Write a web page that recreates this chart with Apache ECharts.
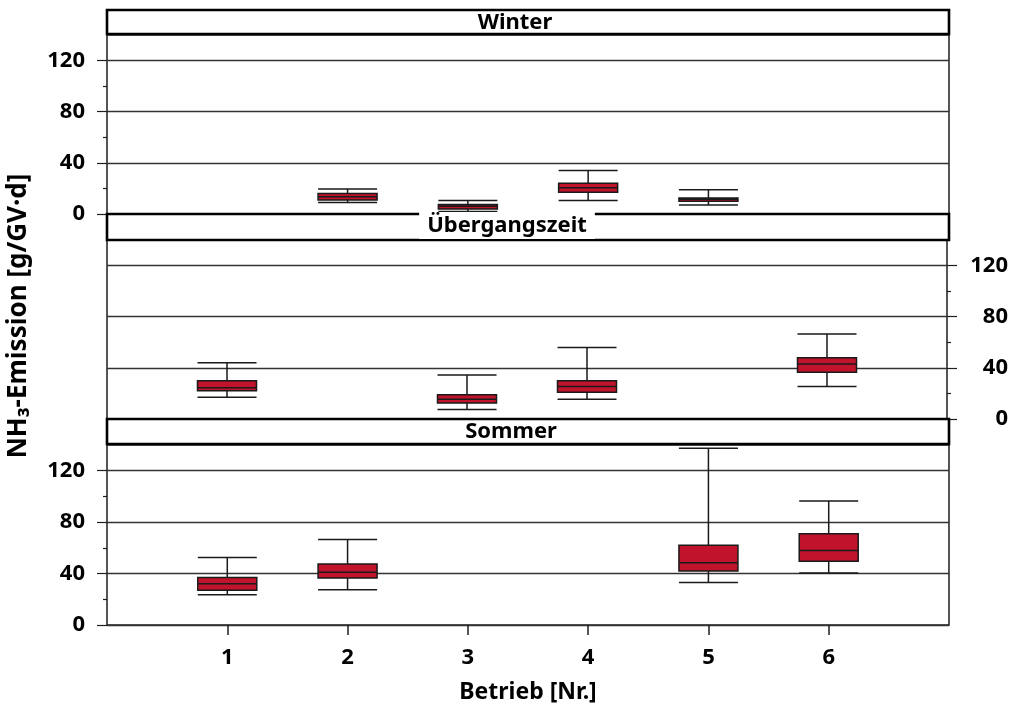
<!DOCTYPE html>
<html>
<head>
<meta charset="utf-8">
<script src="https://cdn.jsdelivr.net/npm/echarts@6/dist/echarts.min.js"></script>
<style>
  html, body { margin: 0; padding: 0; background: #fff; }
  #chart { width: 1011px; height: 710px; }
</style>
</head>
<body>
<div id="chart"></div>
<script>
// Betriebe on the x axis (empty slots pad the axis ends)
const categories = ['', '1', '2', '3', '4', '5', '6', ''];
const seasons = ['Winter', 'Übergangszeit', 'Sommer'];
const yTicks = [0, 40, 80, 120];
const yMinorTicks = [20, 60, 100];

// Boxplot statistics per season: Betrieb and [min, Q1, median, Q3, max] in g/GV·d
const winterBetrieb = ['2', '3', '4', '5'];
const winterStats = [
  [9, 11, 13.5, 16, 19.5],
  [2, 4, 6, 7.5, 10.5],
  [10.5, 17, 20.5, 24, 34],
  [7, 10, 11.5, 12.5, 19]
];
const uebergangBetrieb = ['1', '3', '4', '6'];
const uebergangStats = [
  [17, 22, 24.5, 30, 44],
  [7.5, 12.5, 15.5, 19, 34.5],
  [15.5, 21, 25.5, 30, 56],
  [25.5, 36.5, 43, 48, 66.5]
];
const sommerBetrieb = ['1', '2', '5', '6'];
const sommerStats = [
  [23.5, 27, 32, 37, 52.5],
  [27.5, 36.5, 41, 47.5, 66.5],
  [33, 42, 48.5, 62, 137.5],
  [40.5, 49.5, 58, 71, 96.5]
];

function toSeriesData(betrieb, stats) {
  return categories.map(function (c) {
    const i = betrieb.indexOf(c);
    return i >= 0 && c !== '' ? stats[i].slice() : ['-', '-', '-', '-', '-'];
  });
}

const seasonData = [
  toSeriesData(winterBetrieb, winterStats),
  toSeriesData(uebergangBetrieb, uebergangStats),
  toSeriesData(sommerBetrieb, sommerStats)
];

const FONT = '"Noto Sans", "Open Sans", sans-serif';
const panels = [
  { top: 35, height: 179, side: 'left', header: [10, 24], labelX: 515 },
  { top: 240, height: 179, side: 'right', header: [214, 26], labelX: 507 },
  { top: 445, height: 180, side: 'left', header: [419, 25], labelX: 511 }
];

const grids = [], xAxes = [], yAxes = [], series = [], graphics = [];

panels.forEach(function (p, k) {
  grids.push({
    left: 107, right: 62, top: p.top, height: p.height,
    show: true, borderColor: '#1e1e1e', borderWidth: 1.5, backgroundColor: 'transparent'
  });
  const isBottom = k === panels.length - 1;
  xAxes.push({
    type: 'category', gridIndex: k, data: categories, boundaryGap: false,
    axisLine: { show: false },
    axisTick: {
      show: isBottom, length: 10,
      interval: function (i) { return i >= 1 && i <= 6; },
      lineStyle: { color: '#1e1e1e', width: 1.5 }
    },
    axisLabel: {
      show: isBottom, interval: 0, margin: 22,
      color: '#000', fontFamily: FONT, fontWeight: 'bold', fontSize: 22
    },
    splitLine: { show: false }
  });
  const right = p.side === 'right';
  yAxes.push({
    type: 'value', gridIndex: k, min: 0, max: 140, position: p.side,
    axisLine: { show: false },
    axisTick: { show: true, length: 10, customValues: yTicks, lineStyle: { color: '#1e1e1e', width: 1.2 } },
    axisLabel: {
      customValues: yTicks,
      margin: right ? 61 : 22, align: 'right',
      color: '#000', fontFamily: FONT, fontWeight: 'bold', fontSize: 22
    },
    splitLine: { show: true, lineStyle: { color: '#333', width: 1.3 } }
  });
  // minor ticks between the labelled values
  yAxes.push({
    type: 'value', gridIndex: k, min: 0, max: 140, position: p.side,
    axisLine: { show: false },
    axisTick: { show: true, length: 4, customValues: yMinorTicks, lineStyle: { color: '#1e1e1e', width: 1.2 } },
    axisLabel: { show: false },
    splitLine: { show: false }
  });
  series.push({
    type: 'boxplot', name: seasons[k],
    xAxisIndex: k, yAxisIndex: 2 * k,
    boxWidth: [59, 59],
    data: seasonData[k],
    itemStyle: { color: '#c1132c', borderColor: '#1a1a1a', borderWidth: 1.5 },
    emphasis: { disabled: true },
    animation: false
  });
  graphics.push({
    type: 'rect', z: 50,
    shape: { x: 107, y: p.header[0], width: 842, height: p.header[1] },
    style: { fill: '#fff', stroke: '#000', lineWidth: 2.6 }
  });
});

// season captions; the middle one sits on a white plate over the frame line
graphics.push({
  type: 'text', z: 51, x: panels[0].labelX, y: 23,
  style: { text: seasons[0], fill: '#000', align: 'center', verticalAlign: 'middle', font: 'bold 22px ' + FONT }
});
graphics.push({
  type: 'text', z: 51, x: panels[1].labelX, y: 225.5,
  style: {
    text: seasons[1], fill: '#000', align: 'center', verticalAlign: 'middle', font: 'bold 22px ' + FONT,
    lineHeight: 24, backgroundColor: '#fff', padding: [3, 8, 0, 8]
  }
});
graphics.push({
  type: 'text', z: 51, x: panels[2].labelX, y: 432,
  style: { text: seasons[2], fill: '#000', align: 'center', verticalAlign: 'middle', font: 'bold 22px ' + FONT }
});

graphics.push({
  type: 'text', z: 51, x: 19, y: 316, rotation: Math.PI / 2,
  style: {
    text: 'NH₃-Emission [g/GV·d]', fill: '#000', align: 'center', verticalAlign: 'middle',
    font: 'bold 26px ' + FONT
  }
});
graphics.push({
  type: 'text', z: 51, x: 528, y: 692,
  style: {
    text: 'Betrieb [Nr.]', fill: '#000', align: 'center', verticalAlign: 'middle',
    font: 'bold 23px ' + FONT
  }
});

const chart = echarts.init(document.getElementById('chart'), null, { renderer: 'canvas' });
chart.setOption({
  backgroundColor: '#fff',
  animation: false,
  grid: grids,
  xAxis: xAxes,
  yAxis: yAxes,
  series: series,
  graphic: graphics
});
</script>
</body>
</html>
